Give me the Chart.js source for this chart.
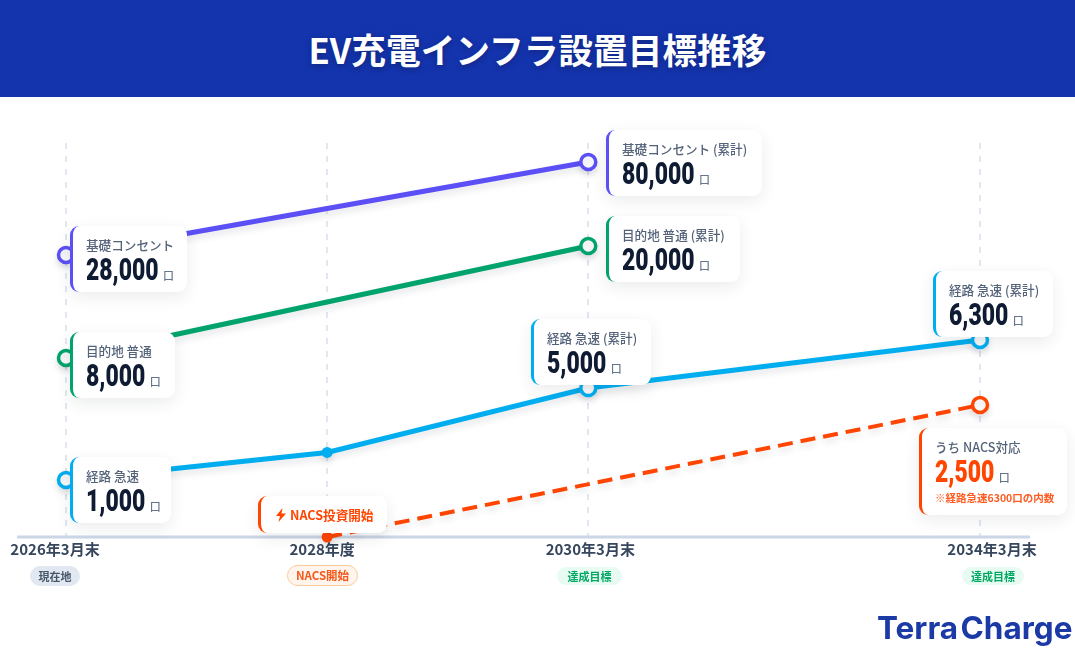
<!DOCTYPE html>
<html lang="ja">
<head>
<meta charset="utf-8">
<script src="https://cdn.jsdelivr.net/npm/chart.js@4"></script>
<style>
*{box-sizing:border-box}
html,body{margin:0;padding:0;width:1075px;height:650px;overflow:hidden;background:#fff;font-family:"Noto Sans CJK JP","Noto Sans",sans-serif}
#hd{position:absolute;left:0;top:0;width:1075px;height:97px;background:#1434ae;color:#fff;font-size:34.7px;font-weight:700;text-align:center;line-height:98px;text-shadow:0 2px 6px rgba(0,0,0,.3)}
#wrap{position:absolute;left:0;top:0;width:1075px;height:650px}
.card{position:absolute;background:#fff;border-radius:9px;box-shadow:0 5px 16px rgba(30,41,59,.09);border-left:3px solid #000;white-space:nowrap}
.card .l{position:absolute;left:13px;top:10px;font-size:12.6px;line-height:18px;font-weight:500;color:#55637a}
.card .n{position:absolute;left:13px;top:26px;font-family:"Roboto",sans-serif;font-weight:900;font-size:31px;line-height:36px;color:#0f1b33;transform:scaleX(.74);transform-origin:0 50%}
.card .u{display:inline-block;font-family:"Noto Sans CJK JP",sans-serif;font-size:11px;line-height:14px;font-weight:500;color:#64748b;margin-left:8px;transform:scaleX(1.35)}
.pill{position:absolute;border-radius:11px;font-size:11px;font-weight:700;text-align:center;white-space:nowrap}
#logo{position:absolute;left:877px;top:608px;font-family:Inter,sans-serif;font-weight:700;font-size:31.5px;line-height:40px;color:#1b3aa6;word-spacing:-5px;white-space:nowrap}
</style>
</head>
<body>
<div id="wrap"><canvas id="c" width="1075" height="650"></canvas></div>
<div id="hd">EV充電インフラ設置目標推移</div>

<div class="card" style="left:70px;top:226px;width:117px;height:66px;border-color:#5b4ff5"><div class="l">基礎コンセント</div><div class="n">28,000<span class="u">口</span></div></div>
<div class="card" style="left:70px;top:332px;width:105px;height:66px;border-color:#00a36c"><div class="l">目的地 普通</div><div class="n">8,000<span class="u">口</span></div></div>
<div class="card" style="left:70px;top:457px;width:101px;height:66px;border-color:#00aeef"><div class="l">経路 急速</div><div class="n">1,000<span class="u">口</span></div></div>
<div class="card" style="left:258px;top:496px;width:129px;height:37px;border-color:#ff4500"><svg style="position:absolute;left:14px;top:12px" width="12" height="14" viewBox="0 0 12 14"><path d="M7.5 0 1 8h4l-1.5 6L11 5.5H6.5z" fill="#ff4500"/></svg><div style="position:absolute;left:29px;top:10px;font-size:12.6px;line-height:18px;font-weight:700;color:#ff4500">NACS投資開始</div></div>
<div class="card" style="left:606px;top:130px;width:156px;height:66px;border-color:#5b4ff5"><div class="l">基礎コンセント (累計)</div><div class="n">80,000<span class="u">口</span></div></div>
<div class="card" style="left:606px;top:216px;width:134px;height:66px;border-color:#00a36c"><div class="l">目的地 普通 (累計)</div><div class="n">20,000<span class="u">口</span></div></div>
<div class="card" style="left:531px;top:319px;width:120px;height:66px;border-color:#00aeef"><div class="l">経路 急速 (累計)</div><div class="n">5,000<span class="u">口</span></div></div>
<div class="card" style="left:933px;top:271px;width:120px;height:66px;border-color:#00aeef"><div class="l">経路 急速 (累計)</div><div class="n">6,300<span class="u">口</span></div></div>
<div class="card" style="left:919px;top:428px;width:148px;height:87px;border-color:#ff4500"><div class="l">うち NACS対応</div><div class="n" style="color:#ff4500">2,500<span class="u">口</span></div><div style="position:absolute;left:13px;top:62px;font-size:10.5px;line-height:16px;font-weight:700;color:#ff5a1f">※経路急速6300口の内数</div></div>

<div class="pill" style="left:30px;top:566px;width:50px;height:20px;line-height:20px;background:#e2e8f2;color:#475569">現在地</div>
<div class="pill" style="left:287px;top:565px;width:71px;height:21px;line-height:19px;font-size:11.5px;background:#fff5ec;border:1px solid #fbc89a;color:#f4581a">NACS開始</div>
<div class="pill" style="left:557px;top:567px;width:65px;height:18px;line-height:18px;background:#e8fbf2;color:#00a862">達成目標</div>
<div class="pill" style="left:962px;top:567px;width:62px;height:18px;line-height:18px;background:#e8fbf2;color:#00a862">達成目標</div>
<div id="logo">Terra Charge</div>

<script>
// Categories: blank slots keep the reference's uneven spacing between the dates.
const categories = ['2026年3月末', '', '2028年度', '', '2030年3月末', '', '', '2034年3月末'];
const socketBasic  = [28000, null, null, null, 80000, null, null, null];
const socketDest   = [8000,  null, null, null, 20000, null, null, null];
const chargerRoute = [1000,  null, 2200, null, 5000,  null, null, 6300];
const chargerNacs  = [null,  null, 0,    null, null,  null, null, 2500];

// The reference is schematic: every series sits on its own hidden vertical scale.
const rangeBasic = [-129700, 90600];
const rangeDest  = [-11180, 31040];
const rangeNacs  = [0, 7462];
const routeStops = [[-1478, 0], [5000, 0.378], [6300, 0.5], [11635, 1]];
const tickShifts = [-11, 0, -5, 0, 2, 0, 0, 12];

class BrokenScale extends Chart.LinearScale {
  getPixelForValue(v) {
    const s = this.options.stops;
    if (v === null || v === undefined || isNaN(v)) return NaN;
    for (let i = 1; i < s.length; i++) {
      if (v <= s[i][0] || i === s.length - 1) {
        const t = (v - s[i-1][0]) / (s[i][0] - s[i-1][0]);
        return this.getPixelForDecimal(s[i-1][1] + t * (s[i][1] - s[i-1][1]));
      }
    }
  }
}
BrokenScale.id = 'broken';
BrokenScale.defaults = Chart.LinearScale.defaults;

class ShiftedCategory extends Chart.CategoryScale {
  _computeLabelItems(area) {
    const items = super._computeLabelItems(area);
    items.forEach((it, i) => { if (it.options && it.options.translation) it.options.translation[0] += (tickShifts[i] || 0); });
    return items;
  }
}
ShiftedCategory.id = 'shiftedCategory';
ShiftedCategory.defaults = Chart.CategoryScale.defaults;
Chart.register(BrokenScale, ShiftedCategory);

const baseline = {
  id: 'baseline',
  beforeDatasetsDraw(chart) {
    const { ctx, chartArea: a } = chart;
    ctx.save();
    ctx.strokeStyle = '#cbd6e6';
    ctx.lineWidth = 3;
    ctx.beginPath();
    ctx.moveTo(a.left - 49, a.bottom);
    ctx.lineTo(a.right + 50, a.bottom);
    ctx.stroke();
    ctx.restore();
  },
  beforeDatasetDraw(chart) {
    const { ctx } = chart;
    ctx.save();
    ctx.shadowColor = 'rgba(30,41,59,.13)';
    ctx.shadowBlur = 7;
    ctx.shadowOffsetY = 4;
  },
  afterDatasetDraw(chart) {
    chart.ctx.restore();
  }
};

function hollow(color, soft) {
  return {
    borderColor: color, borderWidth: 5, spanGaps: true, clip: false, tension: 0,
    pointBackgroundColor: ctx => soft.includes(ctx.dataIndex) ? color : '#fff',
    pointBorderColor: color,
    pointBorderWidth: ctx => soft.includes(ctx.dataIndex) ? 0 : 3.5,
    pointRadius: ctx => ctx.raw === null ? 0 : (soft.includes(ctx.dataIndex) ? 5.5 : 7.5),
    pointHoverRadius: 7.5
  };
}
const hiddenY = (r) => ({ type: 'linear', display: false, min: r[0], max: r[1], grid: { display: false } });

new Chart(document.getElementById('c'), {
  type: 'line',
  data: {
    labels: categories,
    datasets: [
      { label: '基礎コンセント', data: socketBasic, yAxisID: 'yBasic', ...hollow('#5b4ff5', []) },
      { label: '目的地 普通', data: socketDest, yAxisID: 'yDest', ...hollow('#00a36c', []) },
      { label: '経路 急速', data: chargerRoute, yAxisID: 'yRoute', ...hollow('#00aeef', [2]) },
      { label: 'うち NACS対応', data: chargerNacs, yAxisID: 'yNacs', borderDash: [15, 8], ...hollow('#ff4500', [2]), borderWidth: 4 }
    ]
  },
  options: {
    responsive: false,
    animation: false,
    events: [],
    layout: { padding: { left: 66, right: 95, top: 143, bottom: 83 } },
    plugins: { legend: { display: false }, tooltip: { enabled: false } },
    scales: {
      x: {
        type: 'shiftedCategory',
        afterFit(s) { s.height = 30; },
        border: { display: false, dash: [6, 7] },
        grid: {
          drawTicks: false,
          lineWidth: 2,
          color: ctx => (ctx.tick && ctx.tick.label) ? '#e1e7f0' : 'rgba(0,0,0,0)'
        },
        ticks: {
          autoSkip: false, maxRotation: 0, padding: 3,
          color: '#36465c',
          font: { family: '"Noto Sans CJK JP"', size: 15, weight: '700' }
        }
      },
      yBasic: hiddenY(rangeBasic),
      yDest: hiddenY(rangeDest),
      yNacs: hiddenY(rangeNacs),
      yRoute: { type: 'broken', display: false, min: routeStops[0][0], max: routeStops[3][0], stops: routeStops, grid: { display: false } }
    }
  },
  plugins: [baseline]
});
</script>
</body>
</html>
